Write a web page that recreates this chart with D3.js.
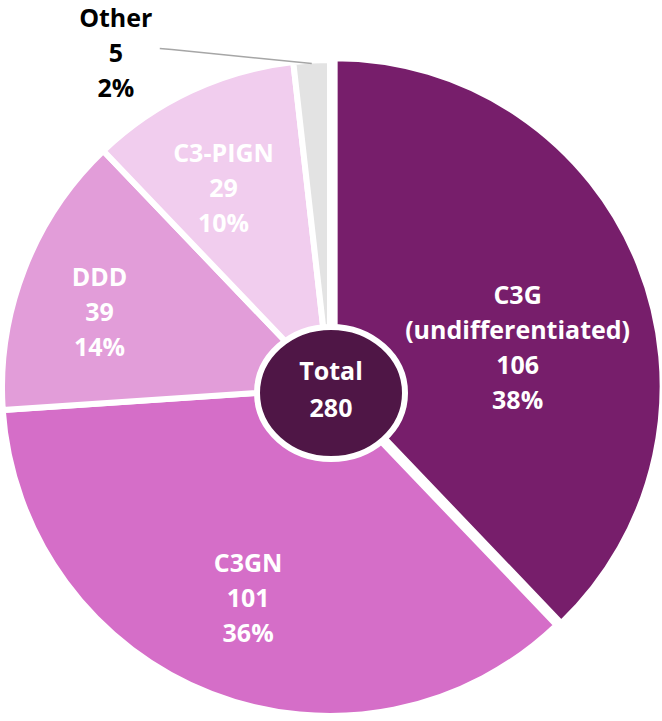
<!DOCTYPE html>
<html>
<head>
<meta charset="utf-8">
<script src="https://cdn.jsdelivr.net/npm/d3@7"></script>
<style>
  body { margin: 0; background: #fff; }
  text { font-family: "Open Sans", "Noto Sans", sans-serif; font-weight: 700; }
</style>
</head>
<body>
<script>
// data
var categories = ["C3G", "C3GN", "DDD", "C3-PIGN", "Other"];
var subLabels = ["(undifferentiated)", null, null, null, null];
var values = [106, 101, 39, 29, 5];
var colors = ["#771e6b", "#d56ec8", "#e29dd9", "#f1cdee", "#e3e3e3"];
var totalLabel = "Total";

var width = 662, height = 721;
var cx = 330, cy = 388, r = 328;
var lineH = 35;
var fontSize = "25px";

// label placement (fraction of radius, angle shift in degrees)
var labelRad = [0.57, 0.69, 0.74, 0.69];
var labelShift = [10, 0, -3, -3];
var explode = [5, 0, 0, 0, 0];

var svg = d3.select("body").append("svg")
  .attr("width", width)
  .attr("height", height);

var g = svg.append("g").attr("transform", "translate(" + cx + "," + cy + ")");

var total = d3.sum(values);
var pct = d3.format(".0%");

var rows = categories.map(function(c, i){
  return {name: c, sub: subLabels[i], value: values[i], color: colors[i], i: i};
});

var pie = d3.pie().sort(null).value(function(d){ return d.value; });
var arcs = pie(rows);

var arc = d3.arc().innerRadius(0).outerRadius(r);

function offset(d, k){
  var a = (d.startAngle + d.endAngle) / 2;
  return [Math.sin(a) * k, -Math.cos(a) * k];
}

// ---- slices ----
g.selectAll("path.slice")
  .data(arcs)
  .enter()
  .append("path")
  .attr("class", "slice")
  .attr("d", arc)
  .attr("fill", function(d){ return d.data.color; })
  .attr("stroke", "#fff")
  .attr("stroke-width", 6)
  .attr("transform", function(d){
    var o = offset(d, explode[d.data.i]);
    return "translate(" + o[0] + "," + o[1] + ")";
  });

// ---- labels inside slices ----
arcs.forEach(function(d){
  var i = d.data.i;
  if (i >= labelRad.length) return;
  var a = (d.startAngle + d.endAngle) / 2 + labelShift[i] * Math.PI / 180;
  var o = offset(d, explode[i]);
  var rr = r * labelRad[i];
  var x = o[0] + Math.sin(a) * rr, y = o[1] - Math.cos(a) * rr;
  var lines = [d.data.name];
  if (d.data.sub) lines.push(d.data.sub);
  lines.push(d.data.value);
  lines.push(pct(d.data.value / total));
  var y0 = y - (lines.length - 1) * lineH / 2 + 8.5;
  var t = g.append("text")
    .attr("text-anchor", "middle")
    .attr("fill", "#fff")
    .style("font-size", fontSize);
  lines.forEach(function(l, k){
    t.append("tspan").attr("x", x).attr("y", y0 + k * lineH).text(l);
  });
});

// ---- "Other" label with leader ----
var other = arcs[4];
var outerArc = d3.arc().innerRadius(r - 3).outerRadius(r - 3);
var p0 = outerArc.centroid(other);
var p1 = [p0[0] - 140, p0[1] - 14];
var p2 = [p1[0] - 12, p1[1] - 1];
g.append("polyline")
  .attr("points", [p0, p1, p2].map(function(p){ return p.join(","); }).join(" "))
  .attr("fill", "none")
  .attr("stroke", "#a6a6a6")
  .attr("stroke-width", 1.5);

var oLines = [other.data.name, other.data.value, pct(other.data.value / total)];
var ot = g.append("text")
  .attr("text-anchor", "middle")
  .attr("fill", "#000")
  .style("font-size", fontSize);
var ox = p2[0] - 44, oy = p2[1] + 5 - lineH + 8.5;
oLines.forEach(function(l, k){
  ot.append("tspan").attr("x", ox).attr("y", oy + k * lineH).text(l);
});

// ---- centre total ----
g.append("ellipse")
  .attr("cx", 1)
  .attr("cy", 5)
  .attr("rx", 74)
  .attr("ry", 66)
  .attr("fill", "#4f1646")
  .attr("stroke", "#fff")
  .attr("stroke-width", 6);

var tt = g.append("text")
  .attr("text-anchor", "middle")
  .attr("fill", "#fff")
  .style("font-size", fontSize);
tt.append("tspan").attr("x", 1).attr("y", -8).text(totalLabel);
tt.append("tspan").attr("x", 1).attr("y", 29).text(total);
</script>
</body>
</html>
